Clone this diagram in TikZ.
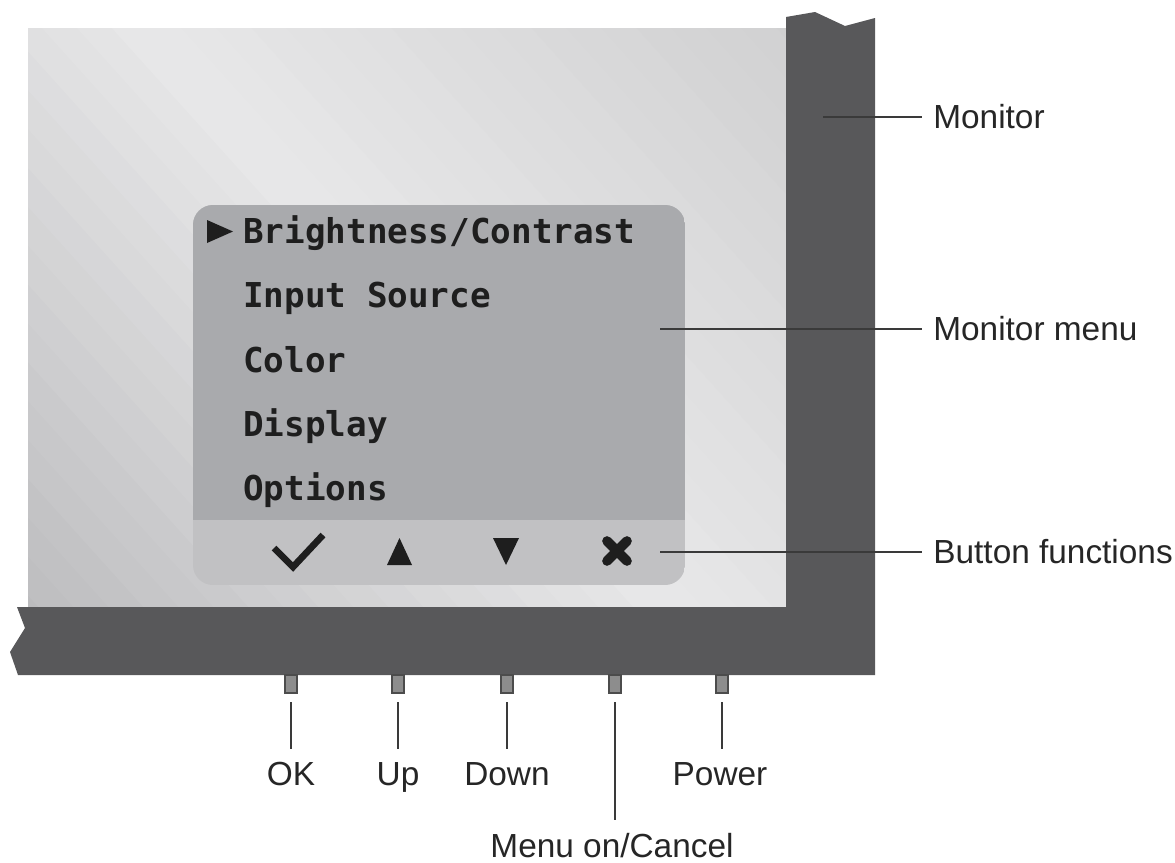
\documentclass[tikz,border=0pt]{standalone}
\usepackage{fontspec}
\usepackage{tikz}
\usetikzlibrary{positioning}
\setmainfont{Liberation Sans}
\newfontfamily\menufont{DejaVu Sans Mono}
\definecolor{bezel}{HTML}{58585A}
\definecolor{scrtop}{HTML}{CFCFD0}
\definecolor{scrmid}{HTML}{E8E8E9}
\definecolor{scrbot}{HTML}{BABABC}
\definecolor{panel}{HTML}{A9AAAD}
\definecolor{strip}{HTML}{C1C1C3}
\definecolor{ink}{HTML}{1E1E1E}
\definecolor{leader}{HTML}{3A3A3A}
\definecolor{knob}{HTML}{8D8D8D}

\begin{document}
\begin{tikzpicture}[x=0.02cm, y=-0.02cm,
    item/.style={anchor=base west, inner sep=0, text=ink, font=\menufont\bfseries\fontsize{19.5}{23}\selectfont},
    callout/.style={inner sep=0, text=black!85, font=\fontsize{19}{23}\selectfont},
    knobbox/.style={draw=black!70, fill=knob, line width=.6pt, inner sep=0, minimum width=.24cm, minimum height=.36cm},
    lead/.style={draw=leader, line width=1pt},
    drop/.style={lead, shorten <=5pt, shorten >=7pt}]
      \useasboundingbox (0, 0) rectangle (1175, 862);
      \begin{scope}
        \clip (28, 28) rectangle (786, 607);
        \begin{scope}[transform canvas={rotate around={42:(407, 317)}}]
          \foreach \i in {0,...,39} {
            \pgfmathsetmacro{\pa}{min(100, 100*\i/19.5)}
            \pgfmathsetmacro{\pb}{max(0, 100*(\i-19.5)/19.5)}
            \fill[scrtop!\pb!scrmid!\pa!scrbot] (-113+26*\i, -203) rectangle (-113+26*\i+40, 837);
          }
        \end{scope}
      \end{scope}
      \fill[bezel] (786, 17) -- (815, 12) -- (845, 26) -- (875, 18) -- (875, 675) -- (18, 675) -- (10, 652) -- (25, 628) -- (17, 607) -- (786, 607) -- cycle;
      \begin{scope}
        \clip[rounded corners=.4cm] (193, 205) rectangle (685, 585);
        \fill[strip] (193, 205) rectangle (685, 585);
        \fill[panel] (193, 205) rectangle (685, 520);
      \end{scope}
      \fill[ink] (207, 220) -- (207, 243) -- (233, 231.5) -- cycle;
      \node (bright) [item] at (243, 243) {Brightness/Contrast};
      \node (input) [item] at (243, 307.5) {Input Source};
      \node (color) [item] at (243, 372) {Color};
      \node (display) [item] at (243, 436) {Display};
      \node (options) [item] at (243, 500) {Options};
      \draw[ink, line width=3.8pt] (274, 548) -- (293, 567) -- (323, 535);
      \fill[ink] (387, 565) -- (412, 565) -- (399.5, 538) -- cycle;
      \fill[ink] (493, 538) -- (519, 538) -- (506, 565) -- cycle;
      \draw[ink, line width=5.5pt, line cap=round] (607, 541) -- (627, 561) (607, 561) -- (627, 541);
      \coordinate (monpt) at (823, 117);
      \coordinate (menupt) at (660, 329);
      \coordinate (funcpt) at (660, 552);
      \node (monlbl) [callout, anchor=west] at (933, 117) {Monitor};
      \node (menulbl) [callout, anchor=west] at (933, 329) {Monitor menu};
      \node (funclbl) [callout, anchor=west] at (933, 552) {Button functions};
      \draw[lead, shorten >=6pt] (monpt) -- (monlbl.west);
      \draw[lead, shorten >=6pt] (menupt) -- (menulbl.west);
      \draw[lead, shorten >=6pt] (funcpt) -- (funclbl.west);
      \node (okbtn) [knobbox] at (291, 684) {};
      \node (upbtn) [knobbox] at (398, 684) {};
      \node (downbtn) [knobbox] at (507, 684) {};
      \node (cancelbtn) [knobbox] at (615, 684) {};
      \node (powerbtn) [knobbox] at (722, 684) {};
      \node (oklbl) [callout, anchor=base] at (291, 785) {OK};
      \node (uplbl) [callout, anchor=base] at (398, 785) {Up};
      \node (downlbl) [callout, anchor=base] at (507, 785) {Down};
      \node (powerlbl) [callout, anchor=base] at (720, 785) {Power};
      \node (cancellbl) [callout, anchor=base] at (612, 857) {Menu on/Cancel};
      \draw[drop] (okbtn.south) -- (okbtn.south |- oklbl.north);
      \draw[drop] (upbtn.south) -- (upbtn.south |- uplbl.north);
      \draw[drop] (downbtn.south) -- (downbtn.south |- downlbl.north);
      \draw[drop] (cancelbtn.south) -- (cancelbtn.south |- cancellbl.north);
      \draw[drop] (powerbtn.south) -- (powerbtn.south |- powerlbl.north);
    \end{tikzpicture}
\end{document}
